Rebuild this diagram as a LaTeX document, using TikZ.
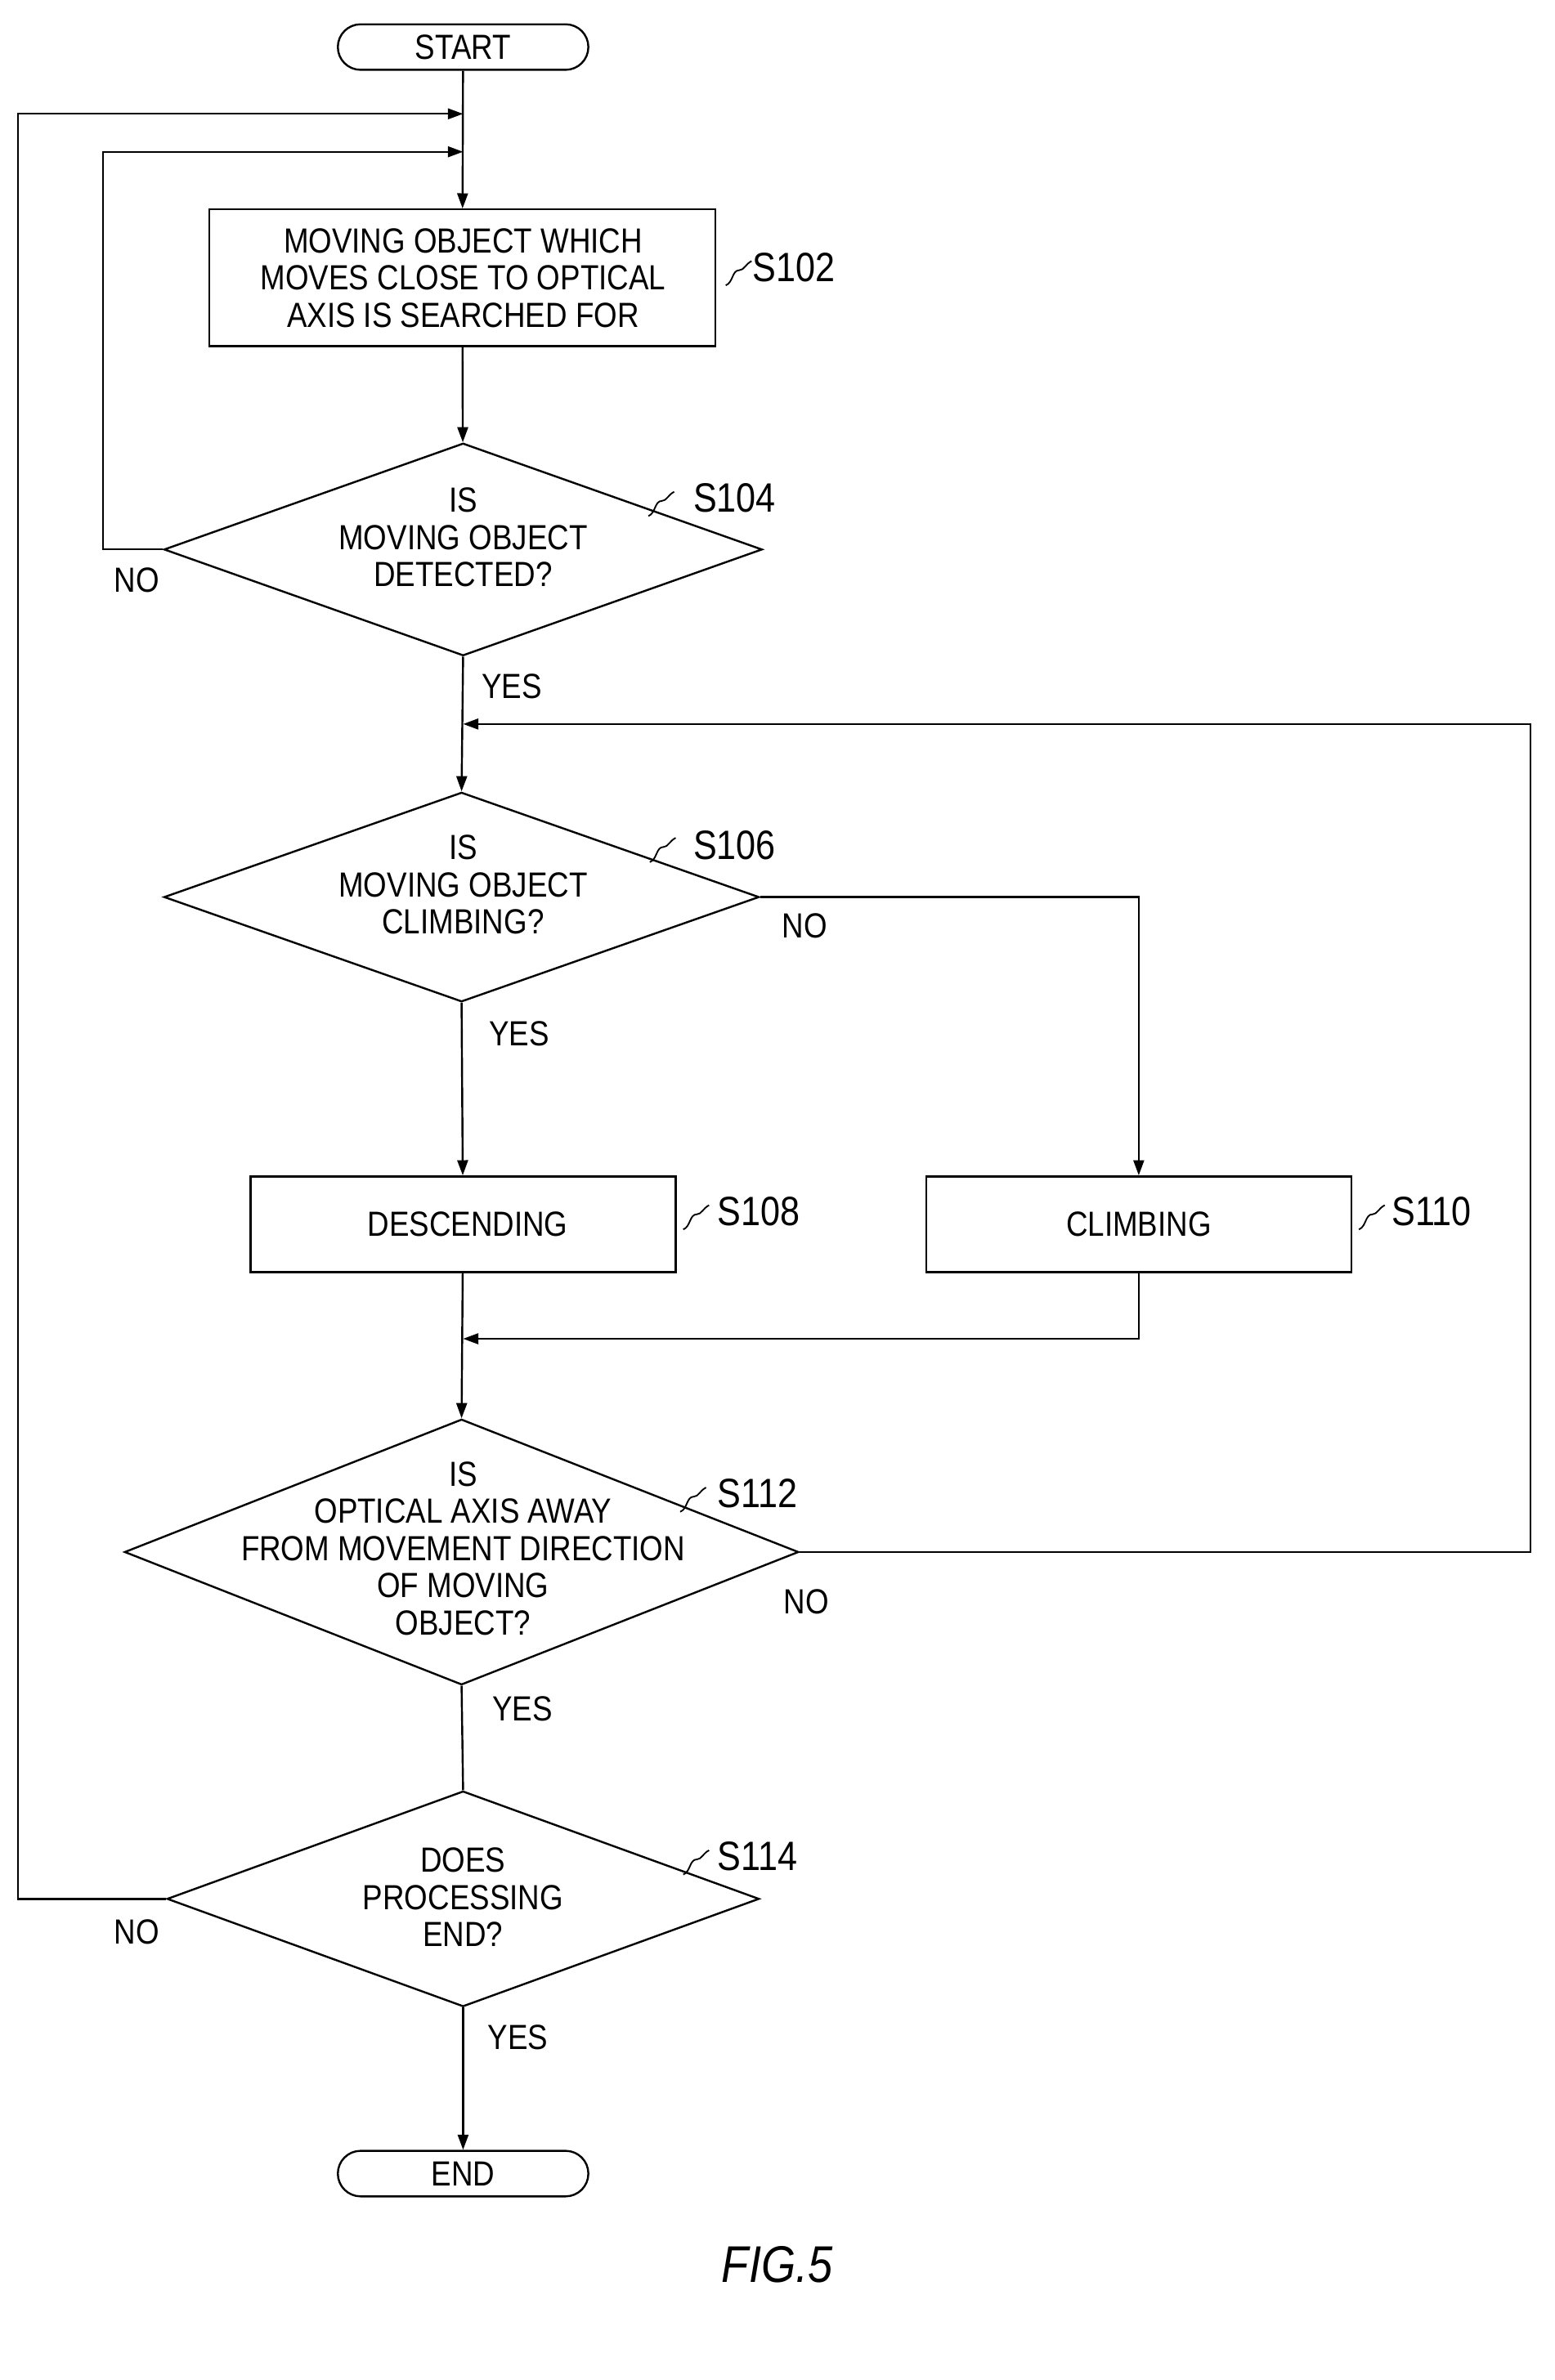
\documentclass[tikz,border=0pt]{standalone}
\usepackage{fontspec}
\setmainfont{Liberation Sans}[FakeStretch=0.86]
\usetikzlibrary{shapes.geometric,arrows.meta}
\begin{document}
\begin{tikzpicture}[x=1pt,y=-1pt,line width=1.3pt,
  txt/.style={font=\fontsize{23}{24.5}\selectfont,align=center,inner sep=0pt},
  lab/.style={font=\fontsize{27}{28}\selectfont,inner sep=0pt,anchor=west},
  yn/.style={font=\fontsize{23}{24}\selectfont,inner sep=0pt},
  box/.style={draw,rectangle,inner sep=0pt},
  term/.style={draw,rounded corners=15pt,minimum width=165pt,minimum height=30pt,inner sep=0pt,font=\fontsize{23}{24}\selectfont},
  dia/.style={draw,diamond,inner sep=0pt},
  arr/.style={-{Triangle[length=10pt,width=7pt]}},
  sq/.style={line width=1pt}]
\useasboundingbox (0,0) rectangle (1024,1568);
% nodes
\node[term] (start) at (305,31) {START};
\node[box,minimum width=333pt,minimum height=90pt] (s102) at (304.5,183) {};
\node[txt] (t102) at (305,183) {MOVING OBJECT WHICH\\MOVES CLOSE TO OPTICAL\\AXIS IS SEARCHED FOR};
\node[dia,minimum width=394pt,minimum height=140pt] (s104) at (305,362) {};
\node[txt] (t104) at (305,354) {IS\\MOVING OBJECT\\DETECTED?};
\node[dia,minimum width=392pt,minimum height=138pt] (s106) at (304,591) {};
\node[txt] (t106) at (305,583) {IS\\MOVING OBJECT\\CLIMBING?};
\node[box,minimum width=280pt,minimum height=63pt] (s108) at (305,806.5) {};
\node[txt] (t108) at (308,806.5) {DESCENDING};
\node[box,minimum width=280pt,minimum height=63pt] (s110) at (750,806.5) {};
\node[txt] (t110) at (750,806.5) {CLIMBING};
\node[dia,minimum width=444pt,minimum height=175pt] (s112) at (304,1022.5) {};
\node[txt] (t112) at (305,1020) {IS\\OPTICAL AXIS AWAY\\FROM MOVEMENT DIRECTION\\OF MOVING\\OBJECT?};
\node[dia,minimum width=390pt,minimum height=142pt] (s114) at (305,1251) {};
\node[txt] (t114) at (305,1250) {DOES\\PROCESSING\\END?};
\node[term] (end) at (305,1432) {END};
\node[font=\itshape\fontsize{34}{36}\selectfont] (fig) at (512,1492) {FIG.5};
% coordinates
\coordinate (j1) at (305,75);
\coordinate (j2) at (305,100);
\coordinate (j3) at (305,477);
\coordinate (j4) at (305,882);
\coordinate (o1) at (12,75);
\coordinate (o2) at (12,1251);
\coordinate (i1) at (68,100);
\coordinate (i2) at (68,362);
\coordinate (r1) at (1008,1022.5);
\coordinate (r2) at (1008,477);
\coordinate (n1) at (750,591);
\coordinate (c1) at (750,882);
% connectors
\draw[arr] (start) -- (s102);
\draw[arr] (s102) -- (s104);
\draw[arr] (s104.south) -- (s106.north);
\draw[arr] (s106.south) -- (s108);
\draw[arr] (s106.east) -- (n1) -- (s110);
\draw[arr] (s108) -- (s112.north);
\draw[arr] (s110) -- (c1) -- (j4);
\draw (s112.south) -- (s114.north);
\draw[arr] (s114.south) -- (end);
\draw[arr] (s104.west) -- (i2) -- (i1) -- (j2);
\draw[arr] (s114.west) -- (o2) -- (o1) -- (j1);
\draw[arr] (s112.east) -- (r1) -- (r2) -- (j3);
% yes/no
\node[yn] (y1) at (337,452) {YES};
\node[yn] (n1l) at (90,382) {NO};
\node[yn] (n2l) at (530,610) {NO};
\node[yn] (y2) at (342,681) {YES};
\node[yn] (n3l) at (531,1055) {NO};
\node[yn] (y3) at (344,1126) {YES};
\node[yn] (n4l) at (90,1273) {NO};
\node[yn] (y4) at (341,1342) {YES};
% step labels
\node[lab] (l102) at (495,176) {S102};
\node[lab] (l104) at (456,328) {S104};
\node[lab] (l106) at (456,557) {S106};
\node[lab] (l108) at (472,798) {S108};
\node[lab] (l110) at (916,798) {S110};
\node[lab] (l112) at (472,984) {S112};
\node[lab] (l114) at (472,1223) {S114};
\foreach \a/\b in {478/188, 427/340, 428/568, 450/810, 895/810, 448/996, 450/1235}{
  \draw[sq] (\a,\b) .. controls (\a+5,\b-2) and (\a+4,\b-10) .. (\a+9,\b-10)
    .. controls (\a+12,\b-10) and (\a+13,\b-14) .. (\a+17,\b-16);}
\end{tikzpicture}
\end{document}
